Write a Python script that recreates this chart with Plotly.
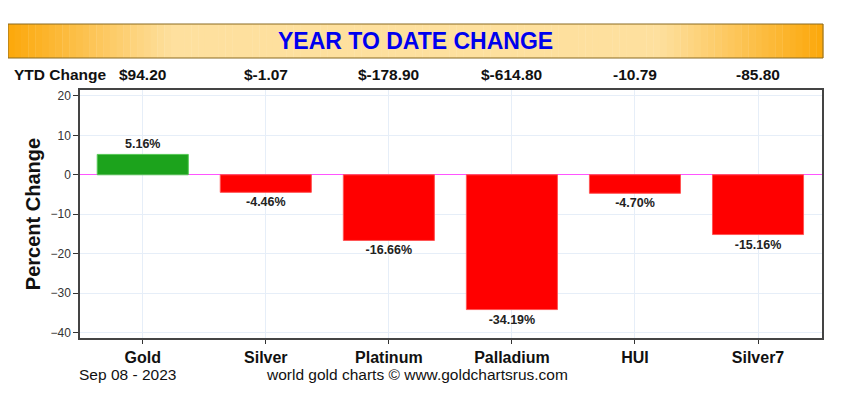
import plotly.graph_objects as go

# data
metals = ['Gold', 'Silver', 'Platinum', 'Palladium', 'HUI', 'Silver7']
pct_change = [5.16, -4.46, -16.66, -34.19, -4.70, -15.16]
ytd_change = ['$94.20', '$-1.07', '$-178.90', '$-614.80', '-10.79', '-85.80']
chart_date = 'Sep 08 - 2023'

# page is 851x417 but the html body adds an 8px margin
OFF = 8
W, H = 851 - 2 * OFF, 417 - 2 * OFF
left, right, top, bottom = 80, 822, 90, 338   # plot area in page pixels
L, T = left - OFF, top - OFF
R, B = W - (right - OFF), H - (bottom - OFF)
plot_w = right - left
plot_h = bottom - top
FONT = 'Liberation Sans'


def px(x):
    return (x - left) / plot_w


def py(y):
    return (bottom - y) / plot_h


colors = ['#1ca31c' if v >= 0 else '#ff0000' for v in pct_change]
edge = ['#55c855' if v >= 0 else '#ff5555' for v in pct_change]
labels = ['<b>%.2f%%</b>' % v for v in pct_change]

fig = go.Figure()
fig.add_trace(go.Bar(
    x=metals, y=pct_change,
    marker=dict(color=colors, line=dict(color=edge, width=1)),
    width=0.74,
    text=labels, textposition='outside', cliponaxis=False,
    textfont=dict(family=FONT, size=12.5, color='#222'),
    hoverinfo='skip',
))

# orange title banner, gradient made of thin strips
x0, x1 = px(8), px(823)
y0, y1 = py(58), py(24)
n = 120


def banner_col(t):
    # t in 0..1 across the banner, orange at both ends
    d = min(t, 1 - t)
    k = min(d / 0.2, 1.0)
    c0 = (252, 168, 10)
    c1 = (254, 224, 158)
    return 'rgb(%d,%d,%d)' % tuple(int(a + (b - a) * k) for a, b in zip(c0, c1))


shapes = []
for i in range(n):
    a = x0 + (x1 - x0) * i / n
    b = x0 + (x1 - x0) * (i + 1) / n
    shapes.append(dict(type='rect', xref='paper', yref='paper', x0=a, x1=b + 0.0005,
                       y0=y0, y1=y1, fillcolor=banner_col((i + 0.5) / n),
                       line=dict(width=0), layer='below'))
shapes.append(dict(type='rect', xref='paper', yref='paper', x0=x0, x1=x1, y0=y0, y1=y1,
                   fillcolor='rgba(0,0,0,0)', line=dict(color='#8a6a20', width=1)))

annotations = [
    dict(text='<b>YEAR TO DATE CHANGE</b>', xref='paper', yref='paper',
         x=(x0 + x1) / 2, y=py(41), yanchor='middle', showarrow=False,
         font=dict(family=FONT, size=23, color='#0000ee')),
    dict(text='<b>YTD Change</b>', xref='paper', yref='paper', x=px(12), y=py(75),
         xanchor='left', yanchor='middle', showarrow=False,
         font=dict(family=FONT, size=15.5, color='#111')),
    dict(text=chart_date, xref='paper', yref='paper', x=px(77), y=py(374),
         xanchor='left', yanchor='middle', showarrow=False,
         font=dict(family=FONT, size=15.5, color='#111')),
    dict(text='world gold charts \u00a9 www.goldchartsrus.com', xref='paper', yref='paper',
         x=px(417), y=py(374), yanchor='middle', showarrow=False,
         font=dict(family=FONT, size=15.5, color='#111')),
]
for m, v in zip(metals, ytd_change):
    annotations.append(dict(text='<b>%s</b>' % v, xref='x', yref='paper', x=m, y=py(75),
                            yanchor='middle', showarrow=False,
                            font=dict(family=FONT, size=15.5, color='#111')))

fig.update_layout(
    width=W, height=H,
    margin=dict(l=L, r=R, t=T, b=B),
    paper_bgcolor='white', plot_bgcolor='white',
    showlegend=False,
    shapes=shapes, annotations=annotations,
    xaxis=dict(
        range=[-0.51, 5.52],
        showgrid=True, gridcolor='#e6eef8', ticks='outside', ticklen=4, tickcolor='#333',
        showline=True, mirror=True, linecolor='#444', linewidth=1.5,
        tickfont=dict(family=FONT, size=16, color='#111'),
        tickvals=metals, ticktext=['<b>%s</b>' % m for m in metals],
    ),
    yaxis=dict(
        range=[-41.4, 21.5], tickvals=[-40, -30, -20, -10, 0, 10, 20],
        showgrid=True, gridcolor='#e6eef8', ticks='outside', ticklen=5, tickcolor='#333',
        showline=True, mirror=True, linecolor='#444', linewidth=1.5,
        zeroline=True, zerolinecolor='#ff55ff', zerolinewidth=1,
        tickfont=dict(family=FONT, size=12, color='#333'),
        title=dict(text='<b>Percent Change</b>', standoff=4,
                   font=dict(family=FONT, size=20, color='#111')),
    ),
)

fig.write_html("out.html")
